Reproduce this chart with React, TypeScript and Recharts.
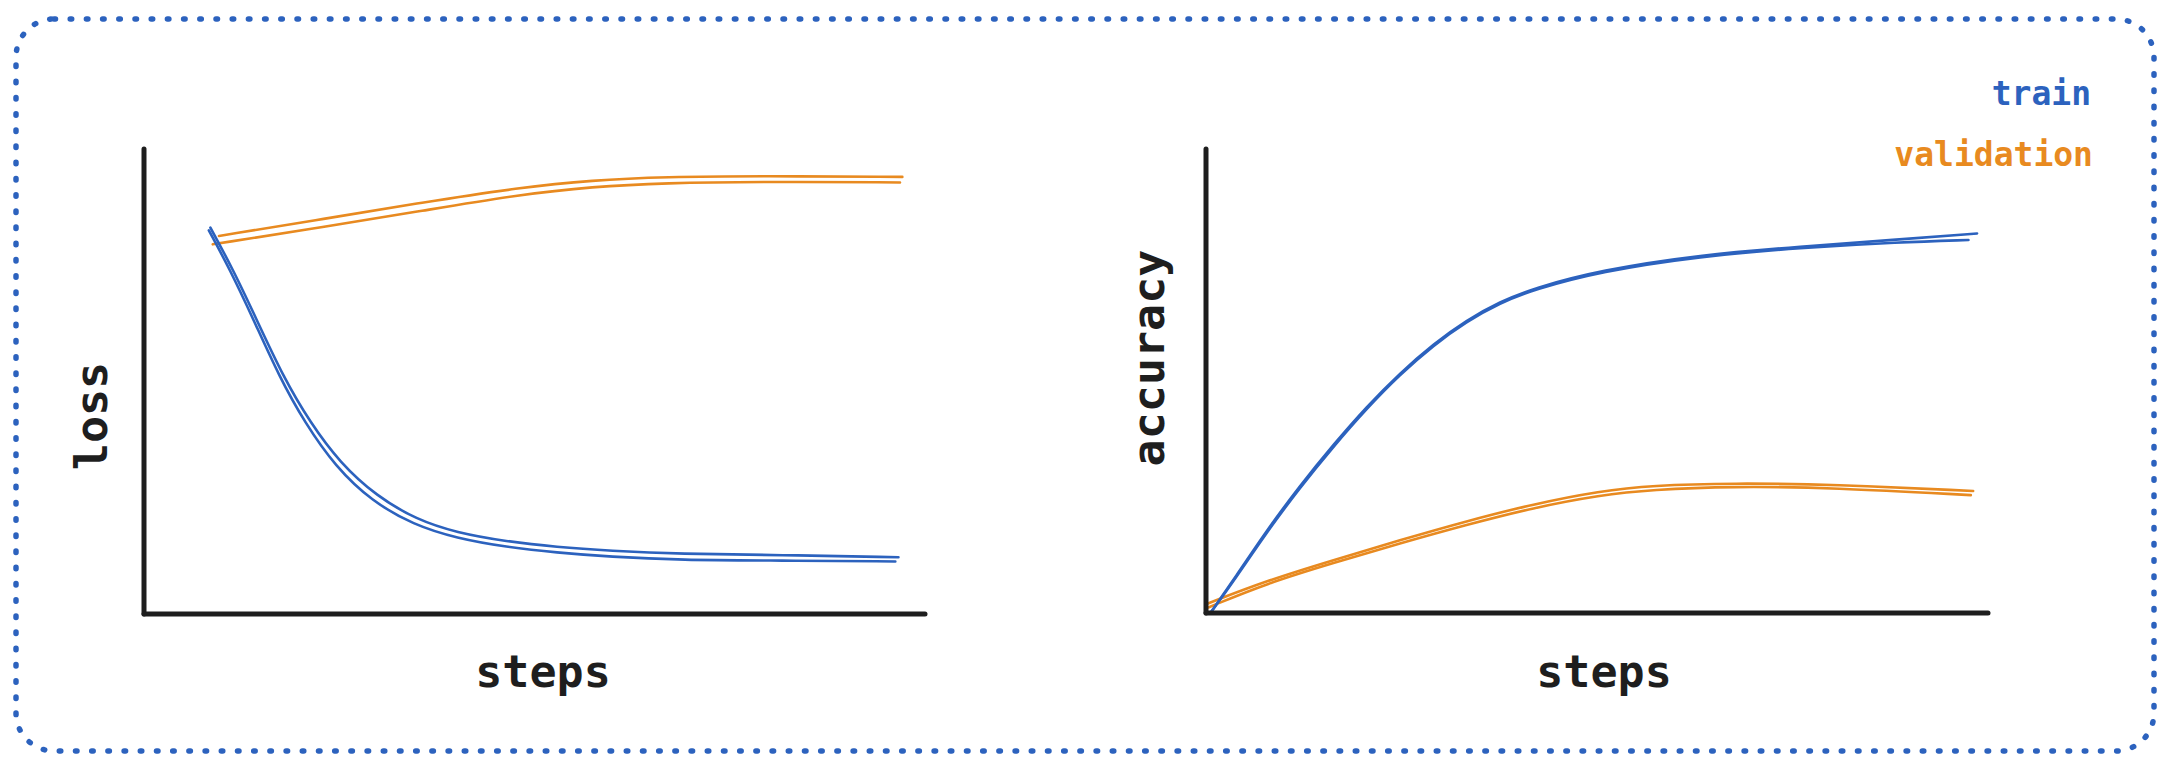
import { LineChart, Line, XAxis, YAxis, Label } from "recharts";

const BLUE = "#2c62be";
const ORANGE = "#e88a20";
const INK = "#1e1e1e";
const FONT = "'DejaVu Sans Mono', 'Liberation Mono', monospace";

// left panel: loss, two pencil strokes per series
const lossTrainStepsA = [8.5, 11.4, 14.4, 17.8, 21.3, 25.1, 29.8, 34.9, 40.0, 46.4, 52.8, 59.7, 68.6, 81.4, 96.6];
const lossTrainA = [83.1, 74.1, 63.4, 51.1, 41.1, 32.5, 25.3, 20.3, 17.5, 15.6, 14.4, 13.6, 12.9, 12.7, 12.2];
const lossTrainStepsB = [8.3, 11.0, 14.0, 17.3, 20.6, 24.5, 29.2, 34.5, 40.0, 46.4, 52.8, 59.7, 68.6, 81.4, 96.2];
const lossTrainB = [82.5, 74.1, 63.4, 51.1, 41.1, 31.7, 24.2, 19.2, 16.3, 14.4, 13.2, 12.3, 11.6, 11.5, 11.3];

const lossValStepsA = [9.6, 23.2, 35.6, 48.1, 57.4, 66.7, 79.1, 97.1];
const lossValA = [81.3, 85.0, 88.5, 91.7, 93.3, 94.0, 94.2, 94.0];
const lossValStepsB = [8.8, 23.2, 35.6, 48.1, 57.4, 66.7, 79.1, 96.8];
const lossValB = [79.5, 83.3, 86.7, 90.2, 91.9, 92.7, 93.0, 92.8];

// right panel: accuracy
const accTrainStepsA = [0.7, 3.5, 7.8, 12.0, 16.3, 20.5, 24.8, 29.1, 33.3, 37.6, 41.9, 50.4, 63.2, 76.0, 88.7, 98.6];
const accTrainA = [0.3, 7.1, 17.9, 27.4, 36.3, 44.4, 51.7, 58.0, 63.1, 67.1, 70.0, 73.9, 77.2, 79.0, 80.5, 81.8];
const accTrainStepsB = [0.7, 3.5, 7.8, 12.0, 16.3, 20.5, 24.8, 29.1, 33.3, 37.6, 41.9, 50.4, 63.2, 76.0, 88.7, 97.5];
const accTrainB = [0.3, 6.8, 17.5, 27.0, 35.9, 44.0, 51.4, 57.7, 62.8, 66.8, 69.7, 73.6, 76.9, 78.7, 79.9, 80.4];

const accValStepsA = [0, 7.8, 16.3, 24.8, 33.3, 41.9, 50.4, 57.0, 67.4, 80.2, 98.1];
const accValA = [1.9, 7.0, 11.4, 15.7, 19.8, 23.5, 26.3, 27.5, 28.0, 27.7, 26.3];
const accValStepsB = [0.3, 7.8, 16.3, 24.8, 33.3, 41.9, 50.4, 57.0, 67.4, 80.2, 97.8];
const accValB = [1.2, 6.4, 10.8, 15.0, 19.0, 22.7, 25.4, 26.6, 27.3, 27.0, 25.4];

const legendLabels = ["train", "validation"];

const zip = (xs: number[], ys: number[]) => xs.map((x, i) => ({ x, y: ys[i] }));

type Stroke = { name: string; color: string; data: { x: number; y: number }[] };

const lossStrokes: Stroke[] = [
  { name: "validation", color: ORANGE, data: zip(lossValStepsA, lossValA) },
  { name: "validation-2", color: ORANGE, data: zip(lossValStepsB, lossValB) },
  { name: "train", color: BLUE, data: zip(lossTrainStepsA, lossTrainA) },
  { name: "train-2", color: BLUE, data: zip(lossTrainStepsB, lossTrainB) },
];

const accStrokes: Stroke[] = [
  { name: "validation", color: ORANGE, data: zip(accValStepsA, accValA) },
  { name: "validation-2", color: ORANGE, data: zip(accValStepsB, accValB) },
  { name: "train", color: BLUE, data: zip(accTrainStepsA, accTrainA) },
  { name: "train-2", color: BLUE, data: zip(accTrainStepsB, accTrainB) },
];

const axisLine = { stroke: INK, strokeWidth: 5, strokeLinecap: "round" as const };

interface PanelProps {
  left: number;
  margin: { top: number; right: number; bottom: number; left: number };
  yLabel: string;
  yLabelPos: [number, number];
  xLabelPos: [number, number];
  strokes: Stroke[];
}

function Panel({ left, margin, yLabel, yLabelPos, xLabelPos, strokes }: PanelProps) {
  return (
    <div style={{ position: "absolute", left, top: 0 }}>
      <LineChart width={1000} height={784} margin={margin}>
        <XAxis
          type="number"
          dataKey="x"
          domain={[0, 100]}
          height={4}
          tick={false}
          tickLine={false}
          axisLine={axisLine}
        >
          <Label
            content={() => (
              <text
                x={xLabelPos[0]}
                y={xLabelPos[1]}
                textAnchor="middle"
                fontFamily={FONT}
                fontWeight="bold"
                fontSize={45}
                fill={INK}
              >
                steps
              </text>
            )}
          />
        </XAxis>
        <YAxis
          type="number"
          domain={[0, 100]}
          width={4}
          tick={false}
          tickLine={false}
          axisLine={axisLine}
        >
          <Label
            content={() => (
              <text
                x={yLabelPos[0]}
                y={yLabelPos[1]}
                transform={`rotate(-90 ${yLabelPos[0]} ${yLabelPos[1]})`}
                textAnchor="middle"
                fontFamily={FONT}
                fontWeight="bold"
                fontSize={45}
                fill={INK}
              >
                {yLabel}
              </text>
            )}
          />
        </YAxis>
        {strokes.map((s) => (
          <Line
            key={s.name}
            data={s.data}
            dataKey="y"
            name={s.name}
            type="basis"
            stroke={s.color}
            strokeWidth={2.6}
            strokeLinecap="round"
            dot={false}
            activeDot={false}
            isAnimationActive={false}
          />
        ))}
      </LineChart>
    </div>
  );
}

export default function App() {
  return (
    <div
      style={{
        position: "absolute",
        left: 0,
        top: 0,
        width: 2178,
        height: 784,
        background: "#ffffff",
        overflow: "hidden",
      }}
    >
      <Panel
        left={0}
        margin={{ top: 149, right: 75, bottom: 166, left: 140 }}
        yLabel="loss"
        yLabelPos={[107, 416]}
        xLabelPos={[543, 687]}
        strokes={lossStrokes}
      />
      <Panel
        left={1100}
        margin={{ top: 149, right: 112, bottom: 167, left: 102 }}
        yLabel="accuracy"
        yLabelPos={[64, 358]}
        xLabelPos={[504, 687]}
        strokes={accStrokes}
      />
      <svg
        width={2178}
        height={784}
        style={{ position: "absolute", left: 0, top: 0, pointerEvents: "none" }}
      >
        <rect
          x={16}
          y={19}
          width={2138}
          height={732}
          rx={38}
          ry={38}
          fill="none"
          stroke={BLUE}
          strokeWidth={5.5}
          strokeDasharray="1.5 14.7"
          strokeLinecap="round"
        />
        <text x={2091} y={105} textAnchor="end" fontFamily={FONT} fontWeight="bold" fontSize={33} fill={BLUE}>
          {legendLabels[0]}
        </text>
        <text x={2093} y={166} textAnchor="end" fontFamily={FONT} fontWeight="bold" fontSize={33} fill={ORANGE}>
          {legendLabels[1]}
        </text>
      </svg>
    </div>
  );
}
